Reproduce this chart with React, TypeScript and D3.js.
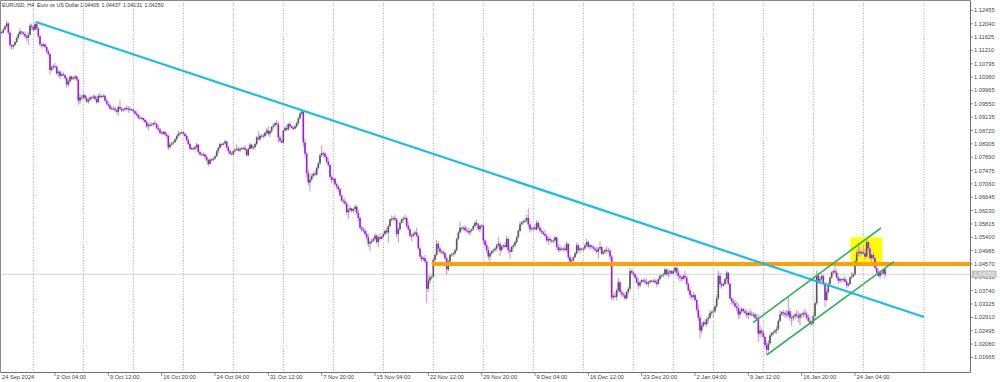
import React from 'react';
import * as d3 from 'd3';

// EURUSD H4 bars, prices in pips above 1.0000 as [high, low, close]; open = previous close
const wkSep24 = [
  [1182,1168,1178],[1181,1172,1176],
  [1190,1174,1186],[1200,1184,1196],[1214,1192,1205],[1208,1170,1176],[1182,1130,1138],[1142,1122,1133],
  [1140,1126,1138],[1150,1134,1147],[1165,1143,1160],[1178,1155,1172],[1190,1166,1180],[1182,1170,1177],
  [1180,1168,1172],[1180,1160,1165],[1170,1150,1160],[1178,1139,1170],[1203,1168,1198],[1205,1185,1195],
];
const wkSep30 = [
  [1198,1180,1185],[1209,1182,1203],[1206,1185,1190],[1192,1160,1165],[1168,1135,1140],[1142,1127,1135],
  [1146,1130,1140],[1142,1128,1132],[1134,1112,1118],[1125,1105,1110],[1112,1045,1060],[1075,1055,1068],
  [1078,1062,1072],[1083,1065,1070],[1075,1045,1050],[1060,1038,1055],[1058,1032,1042],[1050,1040,1047],
  [1055,1040,1044],[1048,1030,1035],[1040,1005,1015],[1030,1008,1025],[1045,1018,1040],[1042,1028,1032],
  [1040,1028,1035],[1045,1030,1040],[1042,1025,1030],[1035,951,965],[985,955,975],[982,968,975],
];
const wkOct07 = [
  [988,970,982],[985,968,972],[980,958,962],[972,955,968],[980,962,975],[978,968,974],
  [985,970,978],[982,965,970],[978,955,960],[985,958,980],[990,972,976],[982,972,979],
  [985,975,980],[983,962,965],[970,950,955],[962,945,950],[955,937,940],[945,937,941],
  [948,935,940],[945,930,935],[940,925,930],[950,918,945],[967,935,940],[942,930,935],
  [940,930,938],[945,932,942],[950,935,938],[948,926,940],[945,932,936],[940,932,937],
];
const wkOct14 = [
  [941,928,932],[935,920,925],[932,915,920],[925,906,912],[918,906,910],[915,906,911],
  [912,900,905],[910,895,898],[905,880,885],[895,872,890],[898,882,888],[895,885,891],
  [898,885,895],[905,888,892],[895,875,880],[890,870,875],[880,860,865],[870,860,862],
  [872,858,868],[870,855,860],[865,848,855],[860,811,820],[835,815,828],[835,825,832],
  [840,828,836],[848,832,845],[858,840,855],[871,850,862],[868,855,864],[870,860,867],
];
const wkOct21 = [
  [869,858,862],[865,850,855],[860,838,842],[848,825,830],[835,810,815],[822,812,817],
  [822,810,815],[825,808,820],[834,815,828],[830,800,805],[810,792,798],[802,794,797],
  [805,792,798],[800,785,790],[795,775,780],[785,761,768],[785,765,782],[786,776,781],
  [788,777,785],[795,780,792],[812,790,808],[822,800,818],[835,815,830],[832,822,828],
  [835,825,832],[843,828,838],[840,815,820],[825,800,808],[812,796,800],[805,795,797],
];
const wkOct28 = [
  [812,795,808],[818,802,812],[829,808,815],[822,805,810],[820,805,815],[820,812,817],
  [822,812,818],[825,810,812],[815,791,795],[820,792,815],[834,812,828],[830,815,817],
  [825,812,820],[835,815,830],[855,825,850],[870,840,845],[862,838,855],[860,850,856],
  [862,848,855],[868,850,865],[880,858,872],[885,855,862],[875,850,870],[885,865,884],
  [892,878,888],[898,882,895],[905,888,892],[900,834,850],[858,836,840],[845,834,834],
];
const wkNov04 = [
  [875,860,872],[885,868,880],[890,870,875],[895,872,892],[900,880,885],[888,876,880],
  [886,872,878],[890,874,885],[900,880,895],[915,890,910],[930,905,925],[937,920,931],
  [931,820,835],[845,790,800],[805,725,740],[750,700,710],[735,682,720],[738,715,730],
  [742,725,738],[748,730,735],[760,730,755],[775,750,770],[800,765,795],[826,790,802],
  [807,790,800],[805,785,790],[795,770,775],[785,760,765],[770,720,728],[735,707,719],
];
const wkNov11 = [
  [727,712,722],[725,700,705],[710,690,698],[702,680,690],[695,665,670],[672,650,654],
  [660,645,652],[663,640,645],[650,610,618],[630,596,625],[640,615,630],[632,618,622],
  [630,615,628],[641,622,635],[640,610,615],[625,590,600],[605,565,570],[575,557,564],
  [572,555,560],[568,545,550],[560,530,540],[550,510,520],[530,497,525],[535,520,529],
  [540,525,535],[553,530,545],[550,520,525],[545,510,540],[552,530,535],[545,535,542],
];
const wkNov18 = [
  [555,538,550],[565,545,560],[570,550,555],[580,523,575],[600,570,595],[608,590,597],
  [605,590,600],[609,590,595],[600,540,550],[570,523,565],[590,560,585],[600,585,596],
  [605,590,598],[609,592,600],[605,570,575],[585,560,565],[570,540,545],[550,528,544],
  [555,540,550],[560,545,555],[570,540,545],[548,500,505],[510,475,480],[485,464,472],
  [480,465,475],[485,460,465],[468,335,380],[420,370,405],[425,395,415],[422,408,417],
];
const wkNov25 = [
  [475,445,470],[490,465,485],[532,480,520],[525,495,505],[510,490,495],[500,488,495],
  [500,485,490],[495,470,475],[480,423,440],[470,435,465],[490,460,485],[492,480,487],
  [495,480,490],[505,485,500],[540,495,535],[560,530,555],[588,550,570],[572,560,567],
  [575,560,570],[578,558,562],[572,555,560],[570,548,555],[565,545,560],[568,555,565],
  [580,560,575],[590,570,585],[596,575,580],[585,560,565],[580,555,575],[582,570,577],
];
const wkDec02 = [
  [545,520,530],[535,510,515],[525,490,500],[510,470,480],[495,460,490],[500,485,497],
  [505,490,500],[510,495,505],[520,498,515],[542,510,520],[525,482,500],[515,495,512],
  [520,505,515],[525,505,510],[544,505,535],[540,490,500],[510,472,495],[515,495,510],
  [520,504,515],[530,510,525],[545,520,540],[565,535,560],[589,555,580],[590,578,586],
  [595,580,590],[600,585,592],[610,585,600],[630,570,580],[585,555,565],[572,560,568],
];
const wkDec09 = [
  [575,560,570],[580,562,565],[593,560,585],[590,565,570],[578,555,560],[565,550,555],
  [560,545,550],[563,540,545],[550,525,530],[540,517,535],[545,525,530],[535,522,527],
  [535,520,530],[545,525,540],[540,505,510],[520,494,500],[515,495,505],[510,498,502],
  [510,495,505],[515,498,500],[528,495,520],[520,470,478],[485,453,465],[472,460,468],
  [480,465,478],[495,475,490],[524,485,515],[520,495,500],[510,490,505],[508,498,502],
];
const wkDec16 = [
  [510,495,505],[520,500,515],[535,510,525],[530,505,510],[520,500,515],[515,505,511],
  [515,500,505],[510,495,500],[512,490,495],[510,474,505],[528,500,510],[512,485,489],
  [500,485,495],[505,488,500],[512,490,500],[508,492,498],[505,470,480],[485,343,353],
  [365,345,358],[370,350,355],[380,345,375],[414,370,400],[405,365,370],[375,355,363],
  [370,352,360],[368,344,350],[375,348,370],[385,360,380],[444,375,435],[440,425,430],
];
const wkDec23 = [
  [436,420,425],[430,410,415],[420,395,400],[410,379,390],[405,385,400],[410,398,407],
  [412,400,405],[413,395,400],[410,390,395],[405,384,400],[408,395,405],[407,400,405],
  [410,398,405],[412,395,400],[408,385,395],[415,392,410],[425,405,420],[424,415,422],
  [430,415,425],[445,420,440],[442,420,425],[440,412,430],[440,420,435],[438,425,427],
];
const wkDec30 = [
  [440,425,435],[453,430,445],[448,420,430],[440,410,420],[425,400,415],[418,405,410],
  [425,405,420],[435,410,415],[420,390,395],[400,370,375],[385,350,360],[365,345,354],
  [371,350,360],[365,340,345],[350,310,315],[330,280,290],[300,226,250],[275,240,265],
  [280,260,275],[285,265,270],[290,262,285],[300,275,290],[315,285,305],[312,298,308],
];
const wkJan06 = [
  [320,290,310],[330,305,325],[360,320,350],[437,345,420],[430,385,395],[400,380,390],
  [400,385,395],[415,390,410],[436,400,430],[430,390,395],[400,345,350],[355,331,341],
  [348,330,335],[345,320,325],[340,310,320],[335,285,300],[320,290,310],[325,305,317],
  [320,305,310],[318,300,305],[315,290,298],[310,286,305],[315,295,300],[310,295,300],
  [307,290,300],[305,285,290],[300,280,285],[300,214,240],[265,230,250],[255,235,244],
];
const wkJan13 = [
  [252,225,230],[235,195,205],[215,177,190],[220,185,210],[240,205,235],[245,230,243],
  [250,235,245],[255,238,250],[265,240,255],[285,250,280],[313,275,300],[310,295,307],
  [315,295,305],[310,290,300],[315,290,298],[354,290,310],[320,280,290],[300,265,290],
  [300,280,295],[305,285,300],[314,290,295],[310,275,290],[305,267,300],[305,290,301],
  [310,290,305],[318,295,300],[310,285,290],[300,275,280],[295,266,272],[280,266,272],
];
const wkJan20 = [
  [300,270,295],[340,290,335],[437,330,420],[430,395,405],[420,395,410],[425,405,419],
  [425,390,395],[400,323,345],[380,340,370],[400,365,395],[420,390,415],[434,410,431],
  [440,425,435],[451,425,430],[440,410,415],[420,395,405],[415,398,410],[412,400,408],
  [415,400,410],[420,400,402],[410,382,390],[400,385,395],[420,390,415],[432,410,418],
  [430,415,425],[470,420,465],[500,460,490],[522,480,495],[510,480,490],[500,485,494],
];
const wkJan27 = [
  [515,485,490],[505,470,480],[533,478,525],[530,495,505],[510,470,475],[490,458,485],
  [492,470,475],[478,440,445],[450,425,430],[440,415,420],[435,410,430],[435,420,428],
  [442,425,440.5],[443.7,413.1,425],
];
const firstOpen = 1170;

// Monday 00:00 bar indices (dotted week separators)
const weekStartBars = [20, 50, 80, 110, 140, 170, 200, 230, 260, 290, 320, 350, 380, 404, 428, 458, 488, 518, 554.4];

// time axis
const timeTickBars = [33, 65, 97, 129, 161, 193, 225, 257, 289, 321, 353, 385, 417, 449, 481, 513];
const timeTickLabels = ['2 Oct 04:00', '9 Oct 12:00', '16 Oct 20:00', '24 Oct 04:00', '31 Oct 12:00', '7 Nov 20:00',
  '15 Nov 04:00', '22 Nov 12:00', '29 Nov 20:00', '9 Dec 04:00', '16 Dec 12:00', '23 Dec 20:00', '2 Jan 04:00',
  '9 Jan 12:00', '16 Jan 20:00', '24 Jan 04:00'];
const firstTimeLabel = '24 Sep 2024';

// price axis
const priceTickLabels = ['1.12455', '1.12040', '1.11625', '1.11210', '1.10795', '1.10380', '1.09965', '1.09550',
  '1.09135', '1.08720', '1.08305', '1.07890', '1.07475', '1.07060', '1.06645', '1.06230', '1.05815', '1.05400',
  '1.04985', '1.04570', '1.04155', '1.03740', '1.03325', '1.02910', '1.02495', '1.02080', '1.01665'];

// objects
const trendBlue = [{ bar: 21.6, price: 1.12095 }, { bar: 554.4, price: 1.02922 }];
const channelUpper = [{ bar: 451.8, price: 1.02745 }, { bar: 528.6, price: 1.05689 }];
const channelLower = [{ bar: 460, price: 1.0174 }, { bar: 536.4, price: 1.04642 }];
const supportLevel = { fromBar: 259, price: 1.0457 };
const zoneRect = { fromBar: 510.4, toBar: 529.4, top: 1.054, bottom: 1.04592 };
const header = { symbol: 'EURUSD, H4', name: 'Euro vs US Dollar', ohlc: ['1.04405', '1.04437', '1.04131', '1.04250'] };

const PLOT_R = 970;
const PLOT_B = 372;
const FONT = 'Liberation Sans, Arial, sans-serif';
const UP_BODY = '#555555';
const UP_WICK = '#a6a6a6';
const DN_BODY = '#9c17e6';
const DN_WICK = '#cc8df0';

export default function App() {
  const weeks = [wkSep24, wkSep30, wkOct07, wkOct14, wkOct21, wkOct28, wkNov04, wkNov11, wkNov18, wkNov25,
    wkDec02, wkDec09, wkDec16, wkDec23, wkDec30, wkJan06, wkJan13, wkJan20, wkJan27];
  const raw = weeks.flat();
  const toP = (v: number) => 1 + v / 10000;
  const candles = raw.map((b, i) => {
    const open = i === 0 ? firstOpen : raw[i - 1][2];
    return { i, o: toP(open), h: toP(b[0]), l: toP(b[1]), c: toP(b[2]) };
  });

  const x = d3.scaleLinear().domain([0, 600]).range([0, 1000]);
  const y = d3.scaleLinear().domain([1.01665, 1.12455]).range([357.4, 10.4]);
  const last = candles[candles.length - 1];

  const tickVals = priceTickLabels.map(Number);
  const hdrX = [2, 37];
  const ohlcX = [80, 101.5, 123, 144.5];

  return (
    <svg width={1000} height={382} style={{ position: 'fixed', left: 0, top: 0, background: '#fff' }}
      fontFamily={FONT}>
      <defs>
        <clipPath id="plot"><rect x={0} y={0} width={PLOT_R} height={PLOT_B} /></clipPath>
      </defs>
      <rect x={0} y={0} width={1000} height={382} fill="#fff" />
      {/* week separators */}
      {weekStartBars.map((b) => (
        <line key={'g' + b} x1={x(b)} x2={x(b)} y1={0} y2={PLOT_B} stroke="#8c8c8c" strokeWidth={0.8}
          strokeDasharray="1 1.6" />
      ))}
      <g clipPath="url(#plot)">
        {/* zone */}
        <rect x={x(zoneRect.fromBar)} width={x(zoneRect.toBar) - x(zoneRect.fromBar)} y={y(zoneRect.top)}
          height={y(zoneRect.bottom) - y(zoneRect.top)} fill="#ffff00" />
        {/* current price line */}
        <line x1={0} x2={PLOT_R} y1={y(last.c)} y2={y(last.c)} stroke="#d4d4d4" strokeWidth={1} />
        {/* candles */}
        {candles.map((d) => {
          const up = d.c >= d.o;
          const cx = x(d.i);
          const top = y(Math.max(d.o, d.c));
          const bot = y(Math.min(d.o, d.c));
          return (
            <g key={d.i}>
              <line x1={cx} x2={cx} y1={y(d.h)} y2={y(d.l)} stroke={up ? UP_WICK : DN_WICK} strokeWidth={1} />
              <rect x={cx - 0.8} width={1.6} y={top} height={Math.max(1, bot - top)} fill={up ? UP_BODY : DN_BODY} />
            </g>
          );
        })}
        {/* support */}
        <line x1={x(supportLevel.fromBar)} x2={PLOT_R} y1={y(supportLevel.price)} y2={y(supportLevel.price)}
          stroke="#ffa000" strokeWidth={3.8} />
        {/* trend line */}
        <line x1={x(trendBlue[0].bar)} y1={y(trendBlue[0].price)} x2={x(trendBlue[1].bar)} y2={y(trendBlue[1].price)}
          stroke="#16bdf2" strokeWidth={2.2} />
        <line x1={x(channelUpper[0].bar)} y1={y(channelUpper[0].price)} x2={x(channelUpper[1].bar)} y2={y(channelUpper[1].price)}
          stroke="#2fb35a" strokeWidth={1.6} />
        <line x1={x(channelLower[0].bar)} y1={y(channelLower[0].price)} x2={x(channelLower[1].bar)} y2={y(channelLower[1].price)}
          stroke="#2fb35a" strokeWidth={1.6} />
      </g>
      {/* frame */}
      <line x1={0.5} x2={0.5} y1={0.5} y2={PLOT_B} stroke="#8a8a8a" strokeWidth={1} />
      <line x1={0.5} x2={PLOT_R} y1={0.5} y2={0.5} stroke="#8a8a8a" strokeWidth={1} />
      <line x1={PLOT_R + 0.5} x2={PLOT_R + 0.5} y1={0.5} y2={PLOT_B + 0.5} stroke="#6e6e6e" strokeWidth={1} />
      <line x1={0.5} x2={PLOT_R + 0.5} y1={PLOT_B + 0.5} y2={PLOT_B + 0.5} stroke="#6e6e6e" strokeWidth={1} />
      {/* header */}
      <g fontSize={5.3} fill="#333">
        <text x={hdrX[0]} y={7}>{header.symbol}</text>
        <text x={hdrX[1]} y={7}>{header.name}</text>
        {header.ohlc.map((t, k) => (
          <text key={t + k} x={ohlcX[k]} y={7}>{t}</text>
        ))}
      </g>
      {/* price axis */}
      <g fontSize={5.7} fill="#444">
        {tickVals.map((v, k) => (
          <g key={'p' + k}>
            <line x1={PLOT_R} x2={PLOT_R + 3} y1={y(v)} y2={y(v)} stroke="#6e6e6e" strokeWidth={0.8} />
            <text x={PLOT_R + 4} y={y(v) + 2}>{priceTickLabels[k]}</text>
          </g>
        ))}
        <rect x={PLOT_R + 1.5} y={y(last.c) - 3.8} width={25} height={7.2} fill="#c4c4c4" />
        <text x={PLOT_R + 4} y={y(last.c) + 2} fill="#f4f4f4">{header.ohlc[3]}</text>
      </g>
      {/* time axis */}
      <g fontSize={5.7} fill="#444">
        <text x={2} y={378.6}>{firstTimeLabel}</text>
        {timeTickBars.map((b, k) => (
          <g key={'t' + k}>
            <line x1={x(b)} x2={x(b)} y1={PLOT_B} y2={PLOT_B + 4} stroke="#6e6e6e" strokeWidth={0.8} />
            <text x={x(b) + 1.6} y={378.6}>{timeTickLabels[k]}</text>
          </g>
        ))}
      </g>
    </svg>
  );
}
